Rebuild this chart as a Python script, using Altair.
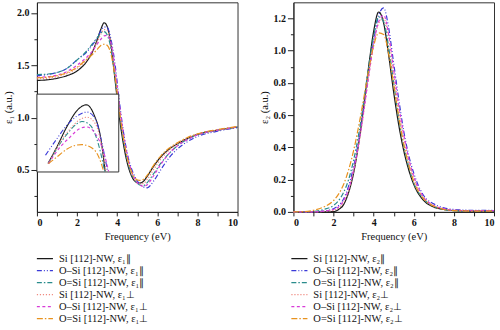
import altair as alt
import pandas as pd

# ---------------- data: epsilon_1 (left panel) ----------------
x_e1 = [0, 0.5, 1, 1.5, 2, 2.5, 2.75, 3, 3.2, 3.35, 3.5, 3.7, 3.9, 4.1, 4.3,
        4.5, 4.7, 4.9, 5.1, 5.3, 5.5, 5.8, 6.2, 6.6, 7, 7.5, 8, 9, 10]
e1_si_par = [1.355, 1.36, 1.375, 1.40, 1.445, 1.54, 1.62, 1.74, 1.85, 1.905, 1.87, 1.68, 1.35, 1.02, 0.76,
             0.57, 0.45, 0.39, 0.375, 0.39, 0.44, 0.53, 0.63, 0.70, 0.75, 0.80, 0.84, 0.88, 0.91]
e1_osi_par = [1.40, 1.41, 1.43, 1.47, 1.55, 1.63, 1.69, 1.76, 1.83, 1.865, 1.86, 1.74, 1.50, 1.17, 0.88,
              0.66, 0.52, 0.43, 0.37, 0.34, 0.33, 0.39, 0.51, 0.62, 0.70, 0.77, 0.82, 0.87, 0.905]
e1_dsi_par = [1.41, 1.415, 1.43, 1.47, 1.55, 1.64, 1.70, 1.76, 1.81, 1.82, 1.79, 1.65, 1.38, 1.06, 0.80,
              0.60, 0.47, 0.40, 0.36, 0.35, 0.38, 0.46, 0.57, 0.66, 0.73, 0.79, 0.835, 0.88, 0.91]
e1_si_perp = [1.37, 1.375, 1.39, 1.42, 1.47, 1.56, 1.63, 1.72, 1.80, 1.84, 1.83, 1.70, 1.43, 1.10, 0.83,
              0.62, 0.48, 0.40, 0.37, 0.37, 0.41, 0.50, 0.61, 0.69, 0.75, 0.80, 0.84, 0.88, 0.91]
e1_osi_perp = [1.385, 1.39, 1.405, 1.44, 1.50, 1.58, 1.63, 1.70, 1.75, 1.78, 1.785, 1.70, 1.46, 1.14, 0.87,
               0.65, 0.50, 0.41, 0.36, 0.345, 0.36, 0.44, 0.56, 0.66, 0.73, 0.79, 0.835, 0.88, 0.91]
e1_dsi_perp = [1.38, 1.385, 1.40, 1.43, 1.48, 1.56, 1.60, 1.65, 1.69, 1.70, 1.69, 1.60, 1.38, 1.08, 0.82,
               0.62, 0.49, 0.42, 0.40, 0.41, 0.45, 0.54, 0.64, 0.71, 0.76, 0.81, 0.845, 0.885, 0.915]

# ---------------- inset (zoom of the epsilon_1 peak) ----------------
ins_x_si_par = [2.57, 2.75, 2.95, 3.16, 3.35, 3.51, 3.63, 3.73]
ins_y_si_par = [1.61, 1.694, 1.796, 1.880, 1.909, 1.855, 1.753, 1.57]
ins_x_osi_par = [2.52, 2.75, 2.95, 3.16, 3.36, 3.53, 3.66, 3.78]
ins_y_osi_par = [1.652, 1.736, 1.804, 1.852, 1.872, 1.838, 1.719, 1.57]
ins_x_dsi_par = [2.58, 2.79, 2.99, 3.16, 3.26, 3.43, 3.60, 3.72]
ins_y_dsi_par = [1.609, 1.702, 1.770, 1.813, 1.824, 1.804, 1.702, 1.57]
ins_x_si_perp = [2.58, 2.82, 3.02, 3.19, 3.36, 3.53, 3.66, 3.75]
ins_y_si_perp = [1.609, 1.719, 1.787, 1.829, 1.846, 1.813, 1.702, 1.57]
ins_x_osi_perp = [2.58, 2.82, 3.02, 3.19, 3.36, 3.53, 3.70, 3.80]
ins_y_osi_perp = [1.609, 1.694, 1.745, 1.784, 1.796, 1.762, 1.668, 1.57]
ins_x_dsi_perp = [2.58, 2.75, 2.95, 3.12, 3.26, 3.43, 3.60, 3.70]
ins_y_dsi_perp = [1.609, 1.643, 1.682, 1.702, 1.706, 1.694, 1.643, 1.57]

# ---------------- data: epsilon_2 (right panel) ----------------
x_e2 = [0, 0.5, 1, 1.5, 2, 2.25, 2.5, 2.75, 3, 3.25, 3.5, 3.75, 4, 4.25, 4.5,
        4.75, 5, 5.25, 5.5, 5.75, 6, 6.5, 7, 7.5, 8, 9, 10]
e2_si_par = [0, 0, 0, 0, 0.002, 0.015, 0.045, 0.12, 0.24, 0.42, 0.65, 0.90, 1.12, 1.24, 1.17,
             0.97, 0.74, 0.54, 0.38, 0.26, 0.17, 0.07, 0.03, 0.015, 0.008, 0.005, 0.005]
e2_osi_par = [0, 0, 0, 0.005, 0.02, 0.04, 0.08, 0.16, 0.28, 0.44, 0.64, 0.86, 1.06, 1.22, 1.265,
              1.14, 0.92, 0.70, 0.50, 0.35, 0.24, 0.10, 0.05, 0.025, 0.015, 0.01, 0.01]
e2_dsi_par = [0, 0, 0.003, 0.015, 0.04, 0.07, 0.12, 0.20, 0.32, 0.48, 0.68, 0.90, 1.09, 1.21, 1.18,
              1.02, 0.80, 0.58, 0.41, 0.28, 0.18, 0.08, 0.035, 0.015, 0.008, 0.005, 0.005]
e2_si_perp = [0, 0, 0, 0.003, 0.01, 0.025, 0.06, 0.13, 0.25, 0.41, 0.61, 0.84, 1.04, 1.17, 1.20,
              1.08, 0.86, 0.64, 0.46, 0.32, 0.21, 0.09, 0.04, 0.02, 0.01, 0.008, 0.008]
e2_osi_perp = [0, 0, 0, 0.005, 0.015, 0.03, 0.07, 0.14, 0.26, 0.42, 0.62, 0.84, 1.04, 1.18, 1.22,
               1.10, 0.88, 0.66, 0.48, 0.33, 0.22, 0.09, 0.04, 0.02, 0.01, 0.008, 0.008]
e2_dsi_perp = [0, 0.002, 0.01, 0.03, 0.07, 0.11, 0.17, 0.26, 0.38, 0.53, 0.70, 0.88, 1.03, 1.11, 1.10,
               0.98, 0.79, 0.59, 0.42, 0.29, 0.19, 0.08, 0.035, 0.015, 0.008, 0.005, 0.005]

labels_e1 = ["Si [112]-NW, ε₁∥", "O–Si [112]-NW, ε₁∥", "O=Si [112]-NW, ε₁∥",
             "Si [112]-NW, ε₁⊥", "O–Si [112]-NW, ε₁⊥", "O=Si [112]-NW, ε₁⊥"]
labels_e2 = ["Si [112]-NW, ε₂∥", "O–Si [112]-NW, ε₂∥", "O=Si [112]-NW, ε₂∥",
             "Si [112]-NW, ε₂⊥", "O–Si [112]-NW, ε₂⊥", "O=Si [112]-NW, ε₂⊥"]

x_ticks = [0, 1, 2, 3, 4, 5, 6, 7, 8, 9, 10]
y1_ticks = [0.25, 0.5, 0.75, 1.0, 1.25, 1.5, 1.75, 2.0]
y2_ticks = [0.0, 0.1, 0.2, 0.3, 0.4, 0.5, 0.6, 0.7, 0.8, 0.9, 1.0, 1.1, 1.2]

# ---------------- styles ----------------
colors = ["#1a1a1a", "#3a3ad8", "#2a8c8c", "#f08a80", "#d83cd8", "#e8921e"]
dashes = [[1, 0], [5, 2, 1, 2, 1, 2], [5, 2, 1.5, 2], [1.2, 1.8], [3, 2.5], [6, 2, 1.5, 2]]
FONT = "Liberation Serif"


def long_df(xs, series, labels):
    rows = []
    for ys, lab in zip(series, labels):
        for x, y in zip(xs, ys):
            rows.append({"x": x, "y": y, "series": lab})
    return pd.DataFrame(rows)


def long_df_pairs(xlist, ylist, labels):
    rows = []
    for xs, ys, lab in zip(xlist, ylist, labels):
        for x, y in zip(xs, ys):
            rows.append({"x": x, "y": y, "series": lab})
    return pd.DataFrame(rows)


df1 = long_df(x_e1, [e1_si_par, e1_osi_par, e1_dsi_par, e1_si_perp, e1_osi_perp, e1_dsi_perp], labels_e1)
df2 = long_df(x_e2, [e2_si_par, e2_osi_par, e2_dsi_par, e2_si_perp, e2_osi_perp, e2_dsi_perp], labels_e2)
dfi = long_df_pairs(
    [ins_x_si_par, ins_x_osi_par, ins_x_dsi_par, ins_x_si_perp, ins_x_osi_perp, ins_x_dsi_perp],
    [ins_y_si_par, ins_y_osi_par, ins_y_dsi_par, ins_y_si_perp, ins_y_osi_perp, ins_y_dsi_perp],
    labels_e1)


def legend(lx):
    return alt.Legend(title=None, orient="none", legendX=lx, legendY=251, direction="vertical",
                      symbolType="stroke", symbolSize=260, symbolStrokeWidth=1.3,
                      labelFont=FONT, labelFontSize=10.5, labelColor="#111",
                      clipHeight=11.8, rowPadding=0, labelOffset=5, labelLimit=200)


def enc_color(labels, lx):
    return alt.Color("series:N", scale=alt.Scale(domain=labels, range=colors), legend=legend(lx))


def enc_dash(labels, lx):
    return alt.StrokeDash("series:N", scale=alt.Scale(domain=labels, range=dashes), legend=legend(lx))


x_axis = alt.Axis(title="Frequency (eV)", values=x_ticks,
                  labelExpr="datum.value % 2 == 0 ? datum.label : ''",
                  tickSize=4, labelPadding=2, titlePadding=4)

# ---------------- left panel ----------------
main1 = alt.Chart(df1).mark_line(strokeWidth=1.2, interpolate="monotone").encode(
    x=alt.X("x:Q", scale=alt.Scale(domain=[0, 10], nice=False), axis=x_axis),
    y=alt.Y("y:Q", scale=alt.Scale(domain=[0.1, 2.1], nice=False),
            axis=alt.Axis(title="ε₁ (a.u.)", values=y1_ticks,
                          labelExpr="datum.value % 0.5 == 0 ? format(datum.value, '.1f') : ''",
                          tickSize={"condition": {"test": "datum.value % 0.5 != 0", "value": 3}, "value": 6},
                          labelPadding=2, titlePadding=3)),
    color=enc_color(labels_e1, -1),
    strokeDash=enc_dash(labels_e1, -1),
)

box = alt.Chart(pd.DataFrame({"a": [0]})).mark_rect(fill="white", stroke="#333", strokeWidth=1).encode(
    x=alt.value(0), x2=alt.value(82), y=alt.value(92), y2=alt.value(170)
)

inset = alt.Chart(dfi).mark_line(strokeWidth=1.1, interpolate="monotone").encode(
    x=alt.X("x:Q", scale=alt.Scale(domain=[2.4, 4.0], range=[2.7, 81.7], nice=False, zero=False), axis=None),
    y=alt.Y("y:Q", scale=alt.Scale(domain=[1.57, 1.96], range=[169.3, 92.7], nice=False, zero=False), axis=None),
    color=enc_color(labels_e1, -1),
    strokeDash=enc_dash(labels_e1, -1),
)

left = alt.layer(main1, box, inset).resolve_scale(x="independent", y="independent").properties(
    width=201, height=210)

# ---------------- right panel ----------------
right = alt.Chart(df2).mark_line(strokeWidth=1.2, interpolate="monotone").encode(
    x=alt.X("x:Q", scale=alt.Scale(domain=[0, 10], nice=False), axis=x_axis),
    y=alt.Y("y:Q", scale=alt.Scale(domain=[0, 1.3], nice=False),
            axis=alt.Axis(title="ε₂ (a.u.)", values=y2_ticks,
                          labelExpr="round(datum.value * 10) % 2 == 0 ? format(datum.value, '.1f') : ''",
                          tickSize={"condition": {"test": "round(datum.value * 10) % 2 != 0", "value": 3}, "value": 6},
                          labelPadding=2, titlePadding=3)),
    color=enc_color(labels_e2, -3),
    strokeDash=enc_dash(labels_e2, -3),
).properties(width=201, height=210)

chart = alt.hconcat(left, right, spacing=19).resolve_scale(
    color="independent", strokeDash="independent").resolve_legend(
    color="independent", strokeDash="independent"
).properties(
    padding={"left": 3, "top": 1, "right": 3, "bottom": 0},
    background="white"
).configure_view(
    stroke="#333", strokeWidth=1
).configure_axis(
    grid=False, domainColor="#222", tickColor="#222", labelColor="#111", titleColor="#111",
    labelFont=FONT, titleFont=FONT, labelFontSize=10, labelFontWeight="bold",
    titleFontSize=10.5, titleFontWeight="normal", tickWidth=1
).configure_legend(
    labelFont=FONT, labelFontSize=10.5
)

chart.save("out.html", embed_options={"renderer": "svg", "actions": False})
